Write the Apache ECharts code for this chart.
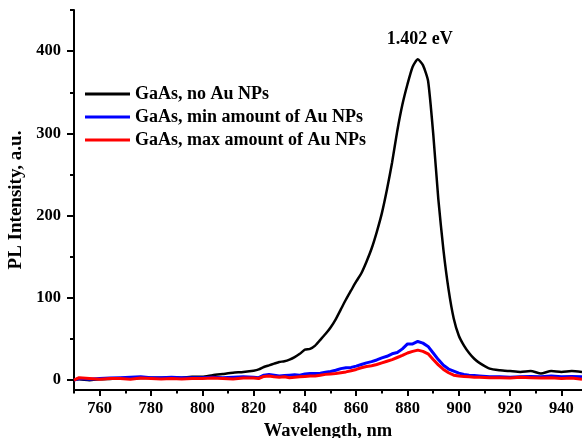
<!DOCTYPE html>
<html>
<head>
<meta charset="utf-8">
<script src="https://cdn.jsdelivr.net/npm/echarts@6/dist/echarts.min.js"></script>
<style>html,body{margin:0;padding:0;background:#fff}#c{width:582px;height:438px}</style>
</head>
<body>
<div id="c"></div>
<script>
var wavelength = [750,752,756,760,764,768,772,776,780,784,788,792,796,800,804,808,812,816,
  820,822,824,826,828,830,832,834,836,838,840,842,844,846,848,850,852,854,856,858,860,862,864,866,868,870,
  872,874,876,878,880,882,884,886,888,890,892,894,896,898,900,902,904,906,908,
  912,916,920,924,928,932,936,940,944,948];
var noAu = [0.5,1,0,1,1.5,2,2,2.5,3,3,3.5,3,4,4,6,7.5,9,10,
  11.5,13,16,18,20,22,23,25,28,32,37,38,42,49,56,64,74,86,98,109,120,130,144,160,180,203,
  232,265,303,335,360,381,390,383,364,300,220,158,110,75,54,42,33,26,21,
  14,12,11,10,11,8,11,10,11,10];
var minAu = [0,2,1,2,2.5,3,3.5,4,3,3,3.5,3,3,3,3.5,3,3.5,4,
  3.5,3,6,7,6,5,5.5,6,6.5,6,7.5,8,8,8.5,9.5,10.5,12,14,15,15.5,17,19,21,22.5,24.5,27,
  29,32,33.5,38,44,44,47,45,41,33,25,18,13.5,11,8.5,7,6,5.5,5,
  4,4,3.5,4,4.5,4,5,4,4.5,4];
var maxAu = [0,3,2,1,2,2,1,2.5,2,1.5,2,1.5,2,2,2.5,2,1.5,2.5,
  2.5,2,4.5,5,4,3.5,4,3,3.5,4,4.5,5,5,6,7,7.5,8,9,10,11.5,13,15,16.5,17.5,19,21,
  23,25,27.5,30,33,35,36.5,35,32,25,18.5,13,9,6,5,4.5,4,3.5,3.5,
  3,3,2.5,3.5,3,2.5,3,2,2.5,1];
var seriesNames = ['GaAs, no Au NPs','GaAs, min amount of Au NPs','GaAs, max amount of Au NPs'];
var xMajor = [760,780,800,820,840,860,880,900,920,940];
var xMinor = [750,770,790,810,830,850,870,890,910,930];
var yMajor = [0,100,200,300,400];
var yMinor = [50,150,250,350,450];
var peakLabel = '1.402 eV';

function pairs(ys){ return wavelength.map(function(w,i){ return [w, ys[i]]; }); }

var font = 'Liberation Serif';
var chart = echarts.init(document.getElementById('c'), null, {renderer:'canvas'});
chart.setOption({
  animation:false,
  backgroundColor:'#fff',
  grid:{left:74, top:10, right:0, bottom:48, containLabel:false, outerBoundsMode:'none'},
  legend:{
    orient:'vertical', left:80, top:80, itemWidth:45, itemHeight:3, itemGap:5, icon:'rect',
    textStyle:{fontFamily:font, fontWeight:'bold', fontSize:18, color:'#000', lineHeight:17},
    data:seriesNames
  },
  xAxis:[{
    type:'value', min:750, max:948, position:'bottom',
    name:'Wavelength, nm', nameLocation:'middle', nameGap:28,
    nameTextStyle:{fontFamily:font, fontWeight:'bold', fontSize:18.5, color:'#000'},
    axisLine:{show:true, onZero:false, lineStyle:{color:'#000', width:2}},
    axisTick:{show:true, customValues:xMajor, length:6, lineStyle:{color:'#000', width:2}},
    axisLabel:{customValues:xMajor, margin:10, fontFamily:font, fontWeight:'bold', fontSize:16.5, color:'#000'},
    splitLine:{show:false}
  },{
    type:'value', min:750, max:948, position:'bottom',
    axisLine:{show:false, onZero:false},
    axisTick:{show:true, customValues:xMinor, length:3.5, lineStyle:{color:'#000', width:2}},
    axisLabel:{show:false},
    splitLine:{show:false}
  }],
  yAxis:[{
    type:'value', min:-12, max:450, position:'left',
    name:'PL Intensity, a.u.', nameLocation:'middle', nameGap:43,
    nameTextStyle:{fontFamily:font, fontWeight:'bold', fontSize:19, color:'#000'},
    axisLine:{show:true, onZero:false, lineStyle:{color:'#000', width:2}},
    axisTick:{show:true, customValues:yMajor, length:7, lineStyle:{color:'#000', width:2}},
    axisLabel:{customValues:yMajor, margin:13, fontFamily:font, fontWeight:'bold', fontSize:16.5, color:'#000'},
    splitLine:{show:false}
  },{
    type:'value', min:-12, max:450, position:'left',
    axisLine:{show:false, onZero:false},
    axisTick:{show:true, customValues:yMinor, length:4, lineStyle:{color:'#000', width:2}},
    axisLabel:{show:false},
    splitLine:{show:false}
  }],
  series:[{
    name:seriesNames[0], type:'line', data:pairs(noAu), showSymbol:false, symbol:'none', smooth:0.2,
    lineStyle:{color:'#000', width:2.5}, itemStyle:{color:'#000'},
    markPoint:{
      symbol:'circle', symbolSize:0,
      data:[{coord:[884,390]}],
      label:{show:true, position:'top', distance:11, offset:[2,0], formatter:peakLabel,
        fontFamily:font, fontWeight:'bold', fontSize:18, color:'#000'}
    }
  },{
    name:seriesNames[1], type:'line', data:pairs(minAu), showSymbol:false, symbol:'none',
    lineStyle:{color:'#0000ff', width:3}, itemStyle:{color:'#0000ff'}
  },{
    name:seriesNames[2], type:'line', data:pairs(maxAu), showSymbol:false, symbol:'none',
    lineStyle:{color:'#ff0000', width:3}, itemStyle:{color:'#ff0000'}
  }]
});
</script>
</body>
</html>
